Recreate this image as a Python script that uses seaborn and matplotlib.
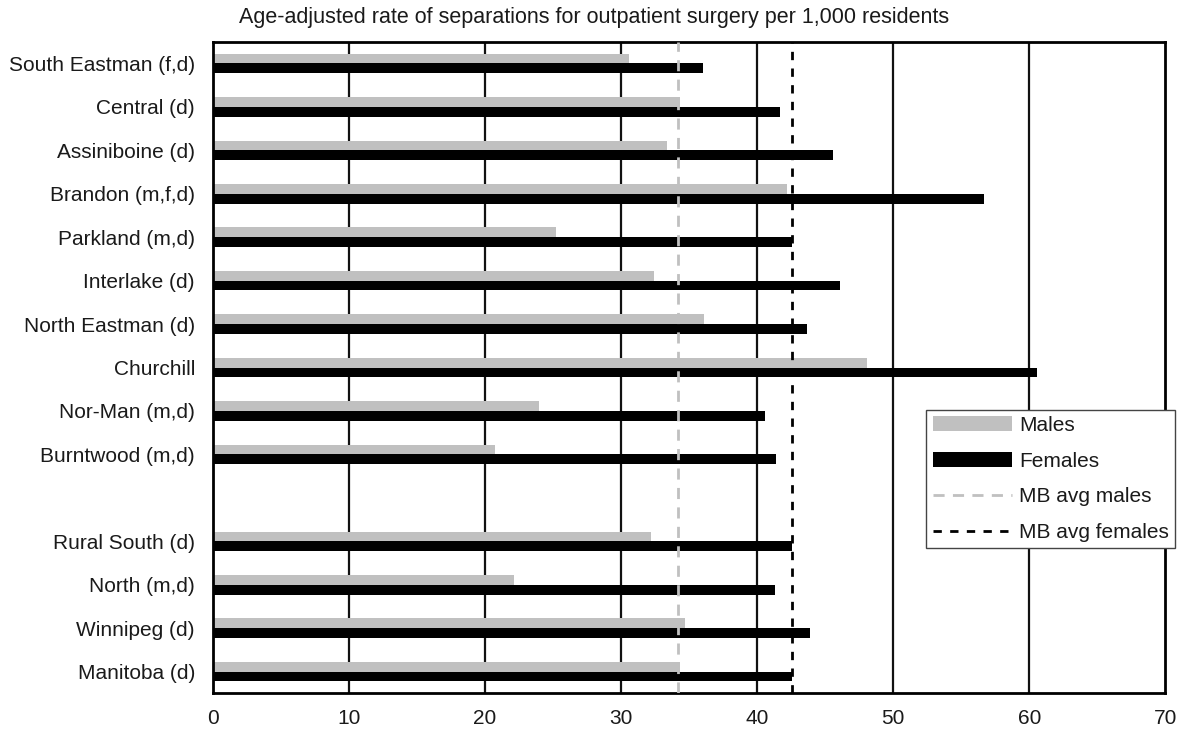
import pandas as pd
import numpy as np
import matplotlib
matplotlib.use('Agg')
import matplotlib.pyplot as plt
import seaborn as sns
from matplotlib.patches import Patch
from matplotlib.lines import Line2D

regions = ['South Eastman (f,d)', 'Central (d)', 'Assiniboine (d)', 'Brandon (m,f,d)',
           'Parkland (m,d)', 'Interlake (d)', 'North Eastman (d)', 'Churchill',
           'Nor-Man (m,d)', 'Burntwood (m,d)', ' ',
           'Rural South (d)', 'North (m,d)', 'Winnipeg (d)', 'Manitoba (d)']
males = [30.6, 34.3, 33.4, 42.2, 25.2, 32.4, 36.1, 48.1, 24.0, 20.7, None, 32.2, 22.1, 34.7, 34.3]
females = [36.0, 41.7, 45.6, 56.7, 42.6, 46.1, 43.7, 60.6, 40.6, 41.4, None, 42.6, 41.3, 43.9, 42.6]
avg_males = 34.2
avg_females = 42.6
x_ticks = [0, 10, 20, 30, 40, 50, 60, 70]

df = pd.DataFrame({'Region': regions, 'Males': males, 'Females': females})
df = df[df['Region'] != ' ']
long = df.melt(id_vars='Region', var_name='Sex', value_name='Rate')

sns.set_style('white')
plt.rcParams['font.family'] = ['Liberation Sans', 'DejaVu Sans']
plt.rcParams['text.color'] = '#1a1a1a'
plt.rcParams['xtick.color'] = '#1a1a1a'
plt.rcParams['ytick.color'] = '#1a1a1a'

fig = plt.figure(figsize=(11.83, 7.44), dpi=100)
ax = fig.add_axes([0.18, 0.068, 0.805, 0.876])

sns.barplot(data=long, y='Region', x='Rate', hue='Sex', order=regions,
            hue_order=['Males', 'Females'], palette=['#c0c0c0', '#000000'],
            orient='h', width=0.45, gap=0, legend=False, ax=ax, zorder=2,
            linewidth=0)

for v in x_ticks[1:-1]:
    ax.axvline(v, color='#111111', lw=1.6, zorder=1)
ax.axvline(avg_males, color='#c0c0c0', lw=2, ls=(0, (4, 3)), zorder=3)
ax.axvline(avg_females, color='black', lw=2, ls=(0, (3, 3)), zorder=3)

ax.set_xlim(0, 70)
ax.set_ylim(len(regions) - 0.5, -0.5)
ax.set_xticks(x_ticks)
ax.set_xlabel('')
ax.set_ylabel('')
ax.tick_params(axis='both', length=0, labelsize=15)
ax.tick_params(axis='x', pad=11)
ax.tick_params(axis='y', pad=13)
for s in ax.spines.values():
    s.set_color('black')
    s.set_linewidth(2)
    s.set_visible(True)

fig.text(0.502, 0.977, 'Age-adjusted rate of separations for outpatient surgery per 1,000 residents',
         fontsize=15.5, ha='center', va='center')

handles = [Patch(facecolor='#c0c0c0', edgecolor='none', label='Males'),
           Patch(facecolor='black', edgecolor='none', label='Females'),
           Line2D([], [], color='#c0c0c0', lw=2, ls=(0, (4, 3)), label='MB avg males'),
           Line2D([], [], color='black', lw=2, ls=(0, (3, 3)), label='MB avg females')]
leg = ax.legend(handles=handles, loc='lower right', bbox_to_anchor=(1.0105, 0.2227),
                fontsize=15, frameon=True, fancybox=False, framealpha=1,
                handlelength=3.8, handleheight=0.7, handletextpad=0.35,
                borderpad=0.3, labelspacing=0.8, borderaxespad=0)
leg.get_frame().set_edgecolor('#444444')
leg.get_frame().set_linewidth(1)

fig.savefig('out.png', dpi=100)
